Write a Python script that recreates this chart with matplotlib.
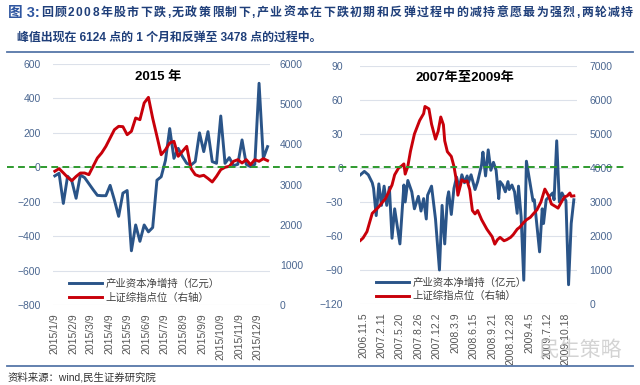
import matplotlib
matplotlib.use('Agg')
import matplotlib.pyplot as plt
import pandas as pd
import matplotlib.transforms as mtransforms
from matplotlib.lines import Line2D

plt.rcParams['font.family'] = ['Liberation Sans', 'Noto Sans CJK SC']

# ---------------- data: left panel (2015, weekly from 2015-01-09) ----------------
left_start = '2015-01-09'
left_blue = [-50, -35, -210, -52, -80, -180, -45, -60, -95, -130,
             -163, -165, -165, -105, -190, -285, -150, -135, -485, -335,
             -430, -335, -375, -350, -75, -55, 40, 225, 52, 110,
             62, 23, 13, 33, 200, 91, 207, 33, 23, 298,
             23, 56, 10, 17, 159, 17, 4, 17, 488, 52, 120]
left_red = [3330, 3395, 3290, 3180, 3095, 3200, 3286, 3286, 3245, 3453,
            3660, 3785, 3950, 4157, 4364, 4448, 4440, 4240, 4324, 4655,
            4614, 5030, 5170, 4650, 4200, 3742, 3866, 4033, 4075, 3702,
            3827, 3950, 3400, 3245, 3204, 3229, 3150, 3063, 3204, 3370,
            3428, 3453, 3577, 3618, 3535, 3618, 3494, 3618, 3577, 3643, 3594]
left_tick_dates = ['2015-01-09', '2015-02-09', '2015-03-09', '2015-04-09', '2015-05-09',
                   '2015-06-09', '2015-07-09', '2015-08-09', '2015-09-09', '2015-10-09',
                   '2015-11-09', '2015-12-09']
left_tick_labels = ['2015/1/9', '2015/2/9', '2015/3/9', '2015/4/9', '2015/5/9', '2015/6/9',
                    '2015/7/9', '2015/8/9', '2015/9/9', '2015/10/9', '2015/11/9', '2015/12/9']

# ---------------- data: right panel (2007-2009, weeks since 2006-11-05) ----------------
right_blue_weeks = [-2, 1, 4, 7, 8, 10, 12, 14, 16, 18, 20, 22, 24, 28, 31, 32, 34, 37, 39, 42,
                    44, 46, 48, 49, 52, 55, 58, 60, 62, 64, 65, 67, 69, 71, 73, 75, 77, 79, 80, 82,
                    85, 87, 90, 91, 93, 95, 97, 99, 101, 103, 104, 106, 108, 110, 111, 113, 115, 117,
                    118, 120, 122, 124, 127, 129, 130, 134, 136, 137, 139, 144, 145, 147, 149, 151,
                    154, 156, 158, 160]
right_blue = [-6, -3, -6, -13, -18, -42, -14, -33, -16, -33, -17, -62, -36, -67, -15, -30, -11, -21, -36, -25,
              -38, -27, -45, -24, -16, -45, -90, -33, -67, -27, -21, -41, -18, -8, -18, -6, -13, -7, -13, -6,
              -19, -12, 3, 14, -7, 16, -2, 5, -2, -27, -12, -15, -21, -12, -19, -15, -21, -40,
              -16, -43, -99, 6, -15, -29, -28, -74, -36, -49, -28, -22, -28, 24, -30, -22,
              -29, -103, -49, -28]
right_red_weeks = [-2, 0, 3, 5, 7, 10, 12, 14, 17, 19, 22, 24, 27, 29, 31, 32, 34, 36, 39, 41,
                   43, 46, 47, 50, 52, 55, 57, 59, 61, 62, 64, 67, 69, 71, 72, 75, 77, 79, 81, 83,
                   85, 87, 90, 94, 98, 100, 102, 104, 107, 109, 112, 114, 117, 119, 122, 124, 127, 129,
                   132, 135, 138, 141, 143, 146, 148, 151, 153, 155, 157, 158, 160]
right_red = [1870, 1941, 2130, 2400, 2667, 2780, 2860, 2960, 3100, 3255, 3500, 3800, 4000, 4050, 4120, 3820,
             4050, 4491, 5000, 5200, 5400, 5600, 5810, 5740, 5290, 4850, 5079, 5500, 5274, 4800, 4480,
             4340, 4050, 3600, 3200, 3650, 3600, 3620, 3360, 2750, 2650, 2750, 2480, 2200, 1980, 1760,
             1890, 1960, 1860, 1890, 1960, 2040, 2200, 2260, 2400, 2475, 2550, 2640, 2770, 3000, 3380,
             3170, 2940, 2870, 2820, 3030, 3150, 3180, 3264, 3170, 3180]
right_tick_weeks = [0, 14, 28, 42, 56, 70, 84, 98, 112, 126, 140, 154]
right_tick_labels = ['2006.11.5', '2007.2.11', '2007.5.20', '2007.8.26', '2007.12.2', '2008.3.9',
                     '2008.6.15', '2008.9.21', '2008.12.28', '2009.4.5', '2009.7.12', '2009.10.18']

legend_labels = ['产业资本净增持（亿元）', '上证综指点位（右轴）']
panel_titles = ['2015 年', '2007年至2009年']
header_line1 = '回顾2008年股市下跌,无政策限制下,产业资本在下跌初期和反弹过程中的减持意愿最为强烈,两轮减持'
header_line2 = '峰值出现在 6124 点的 1 个月和反弹至 3478 点的过程中。'

BLUE = '#2A5488'
RED = '#C8000A'
TICK_C = '#4A6690'
HEAD_C = '#1F3F7A'
W, H = 640, 385

fig = plt.figure(figsize=(6.4, 3.85), dpi=100)
fig.patch.set_facecolor('white')


def style_axes(ax, axr):
    for a in (ax, axr):
        for s in a.spines.values():
            s.set_visible(False)
        a.tick_params(length=0)
    ax.tick_params(axis='y', labelcolor=TICK_C, labelsize=7.5, pad=9)
    axr.tick_params(axis='y', labelcolor=TICK_C, labelsize=7.5, pad=7)
    ax.tick_params(axis='x', labelcolor='#555555', labelsize=7.5, pad=6, rotation=90)
    ax.grid(axis='y', color='#DCE1EA', lw=0.8)
    ax.set_axisbelow(True)


# ---------------- left panel ----------------
ax1 = fig.add_axes([53 / W, 1 - 305 / H, 217 / W, 241 / H])
ax1r = ax1.twinx()
dates_left = pd.date_range(left_start, periods=len(left_blue), freq='7D')
lb, = ax1.plot(dates_left, left_blue, color=BLUE, lw=2.1, solid_joinstyle='round')
lr, = ax1r.plot(dates_left, left_red, color=RED, lw=2.1, solid_joinstyle='round')
ax1.set_ylim(-800, 600)
ax1.set_yticks(range(-800, 601, 200))
ax1r.set_ylim(0, 6000)
ax1r.set_yticks(range(0, 6001, 1000))
ax1.set_xlim(pd.Timestamp('2015-01-06'), pd.Timestamp('2015-12-29'))
ax1.set_xticks(pd.to_datetime(left_tick_dates))
ax1.set_xticklabels(left_tick_labels)
style_axes(ax1, ax1r)
ax1.text(0.484, 0.945, panel_titles[0], transform=ax1.transAxes, ha='center', va='center',
         fontsize=9.5, fontweight='bold', color='black')
ax1r.legend([lb, lr], legend_labels, loc='lower left', bbox_to_anchor=(0.04, -0.02),
            frameon=False, fontsize=7.5, handlelength=3.2, handletextpad=0.3,
            labelspacing=0.35, borderpad=0.2, labelcolor='#404040')

# ---------------- right panel ----------------
ax2 = fig.add_axes([360 / W, 1 - 304 / H, 217 / W, 238 / H])
ax2r = ax2.twinx()
rb, = ax2.plot(right_blue_weeks, right_blue, color=BLUE, lw=2.1, solid_joinstyle='round')
rr, = ax2r.plot(right_red_weeks, right_red, color=RED, lw=2.1, solid_joinstyle='round')
ax2.set_ylim(-120, 90)
ax2.set_yticks(range(-120, 91, 30))
ax2r.set_ylim(0, 7000)
ax2r.set_yticks(range(0, 7001, 1000))
ax2.set_xlim(-2.3, 162.4)
ax2.set_xticks(right_tick_weeks)
ax2.set_xticklabels(right_tick_labels)
style_axes(ax2, ax2r)
ax2.tick_params(axis='y', pad=12)
ax2r.tick_params(axis='y', pad=9)
ax2.text(0.484, 0.95, panel_titles[1], transform=ax2.transAxes, ha='center', va='center',
         fontsize=9.5, fontweight='bold', color='black')
ax2r.legend([rb, rr], legend_labels, loc='lower left', bbox_to_anchor=(0.04, -0.02),
            frameon=False, fontsize=7.5, handlelength=3.2, handletextpad=0.3,
            labelspacing=0.35, borderpad=0.2, labelcolor='#404040')

# ---------------- green zero line across the figure ----------------
trans = mtransforms.blended_transform_factory(fig.transFigure, ax1.transData)
fig.add_artist(Line2D([7 / W, 626 / W], [0, 0], transform=trans, color='#2E9A2E',
                      lw=1.4, linestyle=(0, (3.5, 2.2)), zorder=10))

# ---------------- header / footer ----------------
fig.add_artist(Line2D([7 / W, 633 / W], [1 - 52 / H] * 2, color='#5676A8', lw=1.3))
fig.add_artist(Line2D([7 / W, 633 / W], [1 - 366 / H] * 2, color='#5676A8', lw=1.3))
fig.text(8 / W, 1 - 13 / H, '图 3:', fontsize=10.5, fontweight='bold', color='#2F56A0',
         va='center', ha='left')

# justified first header line (characters spread between x=41 and x=633)
renderer = fig.canvas.get_renderer()
chars = list(header_line1)
widths = []
for ch in chars:
    t = fig.text(0, 0, ch, fontsize=8.6, fontweight='bold')
    widths.append(t.get_window_extent(renderer).width)
    t.remove()
x0, x1 = 41.0, 633.0
gap = (x1 - x0 - sum(widths)) / (len(chars) - 1)
xpos = x0
for ch, wd in zip(chars, widths):
    fig.text(xpos / W, 1 - 13 / H, ch, fontsize=8.6, fontweight='bold', color=HEAD_C,
             va='center', ha='left')
    xpos += wd + gap

fig.text(17 / W, 1 - 38 / H, header_line2,
         fontsize=8.6, fontweight='bold', color=HEAD_C, va='center', ha='left')
fig.text(8 / W, 1 - 377 / H, '资料来源：wind,民生证券研究院', fontsize=7.5, color='#333333',
         va='center', ha='left')
fig.text(622 / W, 1 - 350 / H, '民生策略', fontsize=15, color='#C9C9C9', alpha=0.8,
         va='center', ha='right')

fig.savefig('out.png', dpi=100, facecolor='white')
